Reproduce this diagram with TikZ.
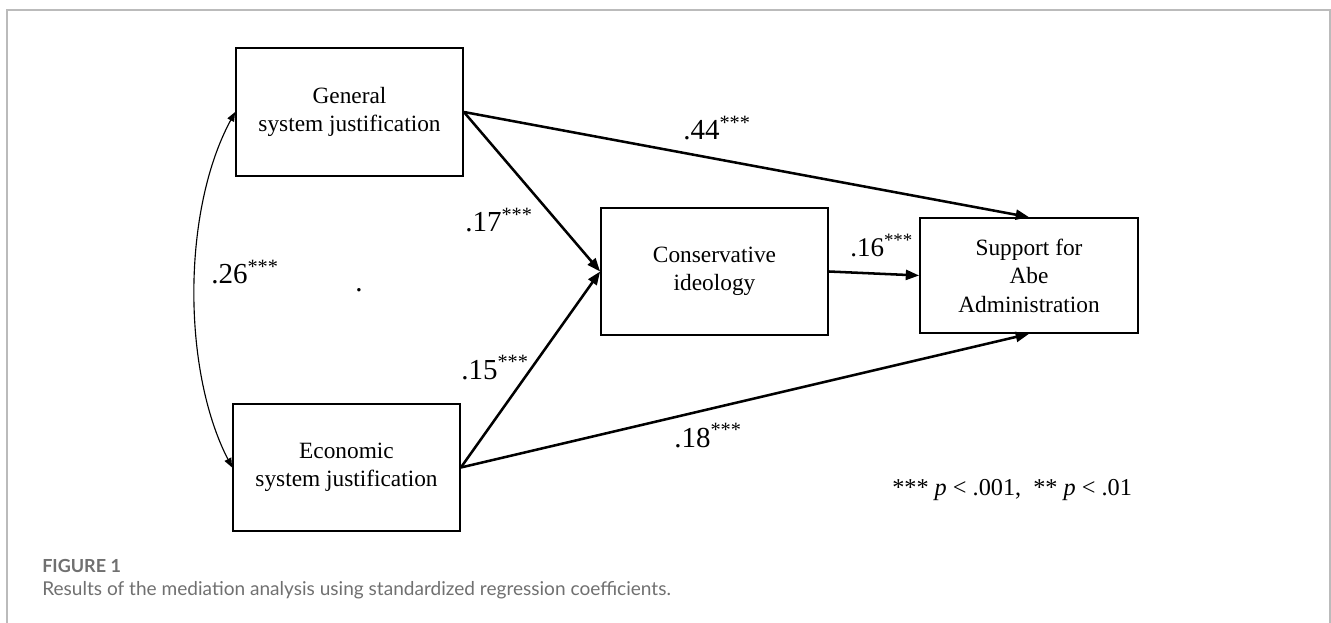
\documentclass[tikz,border=0pt]{standalone}
\usepackage{fontspec}
\setmainfont{Liberation Serif}
\newfontfamily\capfont{Lato}
\usetikzlibrary{arrows.meta}
\definecolor{framegray}{HTML}{BBBBBB}
\definecolor{capgray}{HTML}{707070}
\begin{document}
\begin{tikzpicture}[x=0.75pt,y=-0.75pt,
  box/.style={draw, line width=1.3pt, inner sep=0pt, align=center,
    font=\fontsize{17.5}{21.4}\selectfont},
  arr/.style={line width=1.9pt, -{Triangle[length=10pt,width=7.5pt]}},
  lab/.style={anchor=base west, inner sep=0pt, font=\fontsize{21.75}{24}\selectfont},
  plain/.style={anchor=base west, inner sep=0pt},
  ]
\useasboundingbox (0,0) rectangle (1331,623);
\draw[framegray, line width=1.2pt] (7,623) -- (7,10) -- (1330,10) -- (1330,623);

\node[box, minimum width=170.25pt, minimum height=96pt] (gen) at (349.5,112) {General\\system justification};
\node[box, minimum width=170.25pt, minimum height=95.25pt] (eco) at (346.5,467.5) {Economic\\system justification};
\node[box, minimum width=170.25pt, minimum height=95.25pt] (con) at (714.5,271.5) {Conservative\\ideology};
\node[box, minimum width=163.5pt, minimum height=86.25pt] (sup) at (1029,275.5) {Support for\\Abe\\Administration};

\draw[arr] (gen.east) -- (con.west);
\draw[arr] (eco.east) -- (con.west);
\draw[arr] (gen.east) -- (sup.north);
\draw[arr] (eco.east) -- (sup.south);
\draw[arr] (con.east) -- (sup.west);
\draw[line width=0.85pt, {Triangle[length=7pt,width=5.5pt]}-{Triangle[length=7pt,width=5.5pt]}]
  (gen.west) .. controls (182,210) and (182,370) .. (eco.west);

\node[lab] (l44) at (683,140) {.44\textsuperscript{***}};
\node[lab] (l17) at (465,232) {.17\textsuperscript{***}};
\node[lab] (l26) at (211,284) {.26\textsuperscript{***}};
\node[lab] (dot) at (355,292) {.};
\node[lab] (l15) at (461,379) {.15\textsuperscript{***}};
\node[lab, font=\fontsize{20.25}{22}\selectfont] (l16) at (850,257) {.16\textsuperscript{***}};
\node[lab] (l18) at (674,447) {.18\textsuperscript{***}};

\node[plain, font=\fontsize{18.2}{20}\selectfont] (leg) at (892,495) {*** \textit{p} < .001,\ \ ** \textit{p} < .01};

\node[plain, font=\capfont\bfseries\fontsize{13.5}{15}\selectfont, text=capgray] (fig) at (42,572) {FIGURE 1};
\node[plain, font=\capfont\fontsize{14.3}{16}\selectfont, text=capgray] (cap) at (42,595) {Results of the mediation analysis using standardized regression coefficients.};
\end{tikzpicture}
\end{document}
